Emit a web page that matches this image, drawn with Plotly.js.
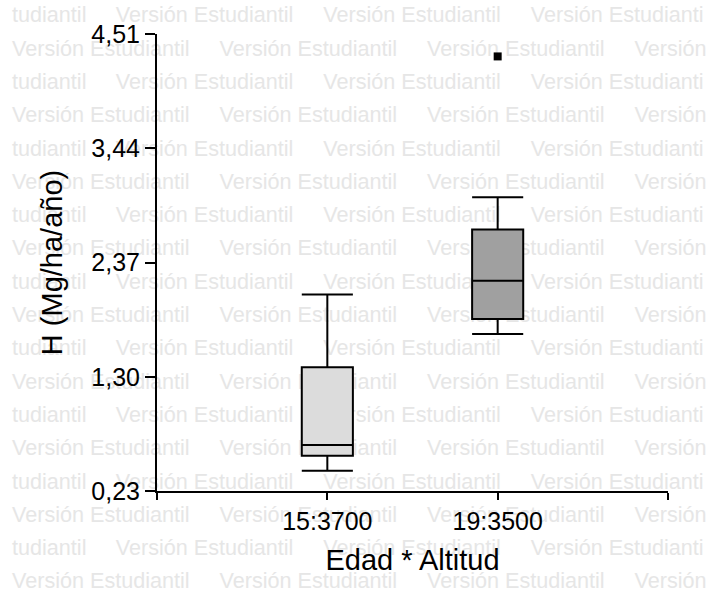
<!DOCTYPE html>
<html>
<head>
<meta charset="utf-8">
<script src="https://cdn.plot.ly/plotly-3.0.1.min.js"></script>
<style>html,body{margin:0;padding:0;background:#fff;}#chart{width:708px;height:595px;}</style>
</head>
<body>
<div id="chart"></div>
<script>
// ---- data ----
var categories = ["15:3700", "19:3500"];
var q1 = [0.56, 1.84];
var median = [0.66, 2.20];
var q3 = [1.39, 2.68];
var lowerWhisker = [0.42, 1.70];
var upperWhisker = [2.07, 2.98];
var outlierGroup = ["19:3500"];
var outlierValue = [4.30];
var yTicks = [0.23, 1.30, 2.37, 3.44, 4.51];
var fills = ["#dcdcdc", "#a0a0a0"];

var L = 157, R = 40, T = 34, B = 104, W = 708, H = 595;
var FONT = "Liberation Sans, Arial, sans-serif";

// watermark ("Versión Estudiantil"), drawn on a hidden full-page subplot behind the boxes
var wmX = [], wmY = [], wmT = [];
var period = 207.5;
for (var k = 0; k < 18; k++) {
  var py = 17 + 33.3 * k;
  if (k % 2 === 0) {
    wmX.push(12, 12 + period / 2, 12 + period * 1.5, 12 + period * 2.5);
    wmT.push("tudiantil", "Versión Estudiantil", "Versión Estudiantil", "Versión Estudianti");
  } else {
    wmX.push(12, 12 + period, 12 + period * 2, 12 + period * 3);
    wmT.push("Versión Estudiantil", "Versión Estudiantil", "Versión Estudiantil", "Versión");
  }
  wmY.push(py, py, py, py);
}

var traces = [{
  type: "scatter", mode: "text",
  x: wmX, y: wmY, text: wmT,
  textposition: "middle right",
  textfont: {family: FONT, size: 21.6, color: "#e6e6e6"},
  cliponaxis: false, hoverinfo: "skip", showlegend: false,
  xaxis: "x", yaxis: "y"
}];

categories.forEach(function (c, i) {
  traces.push({
    type: "box",
    x: [i],
    q1: [q1[i]], median: [median[i]], q3: [q3[i]],
    lowerfence: [lowerWhisker[i]], upperfence: [upperWhisker[i]],
    width: 0.3,
    whiskerwidth: 1,
    fillcolor: fills[i],
    line: {color: "#000", width: 2},
    boxpoints: false,
    hoverinfo: "skip",
    showlegend: false,
    xaxis: "x2", yaxis: "y2"
  });
});
traces.push({
  type: "scatter", mode: "markers",
  x: outlierGroup.map(function (g) { return categories.indexOf(g); }),
  y: outlierValue,
  marker: {symbol: "square", size: 8, color: "#000"},
  showlegend: false, hoverinfo: "skip",
  xaxis: "x2", yaxis: "y2"
});

var layout = {
  width: W, height: H,
  margin: {l: 0, r: 0, t: 0, b: 0, pad: 0},
  paper_bgcolor: "#fff", plot_bgcolor: "rgba(0,0,0,0)",
  separators: ",.",
  font: {family: FONT, color: "#000"},
  showlegend: false,
  xaxis: {domain: [0, 1], range: [0, W], visible: false, fixedrange: true},
  yaxis: {domain: [0, 1], range: [H, 0], visible: false, fixedrange: true},
  xaxis2: {
    domain: [L / W, (W - R) / W], anchor: "y2", side: "bottom",
    range: [-1, 2],
    tickmode: "array",
    tickvals: [-1].concat(categories.map(function (c, i) { return i; }), [categories.length]),
    ticktext: [""].concat(categories, [""]),
    ticks: "outside", ticklen: 7, tickwidth: 2, tickcolor: "#000",
    showline: true, linewidth: 2, linecolor: "#000",
    showgrid: false, zeroline: false,
    tickfont: {size: 25},
    title: {text: "Edad * Altitud", font: {size: 29}, standoff: 16}
  },
  yaxis2: {
    domain: [B / H, (H - T) / H], anchor: "x2", side: "left",
    range: [yTicks[0], yTicks[yTicks.length - 1]],
    tickmode: "array", tickvals: yTicks, tickformat: ".2f",
    ticks: "outside", ticklen: 10, tickwidth: 2, tickcolor: "#000",
    showline: true, linewidth: 2, linecolor: "#000",
    showgrid: false, zeroline: false,
    tickfont: {size: 25},
    title: {text: "H (Mg/ha/año)", font: {size: 29}, standoff: 20}
  }
};

Plotly.newPlot("chart", traces, layout, {displayModeBar: false, staticPlot: true});
</script>
</body>
</html>
